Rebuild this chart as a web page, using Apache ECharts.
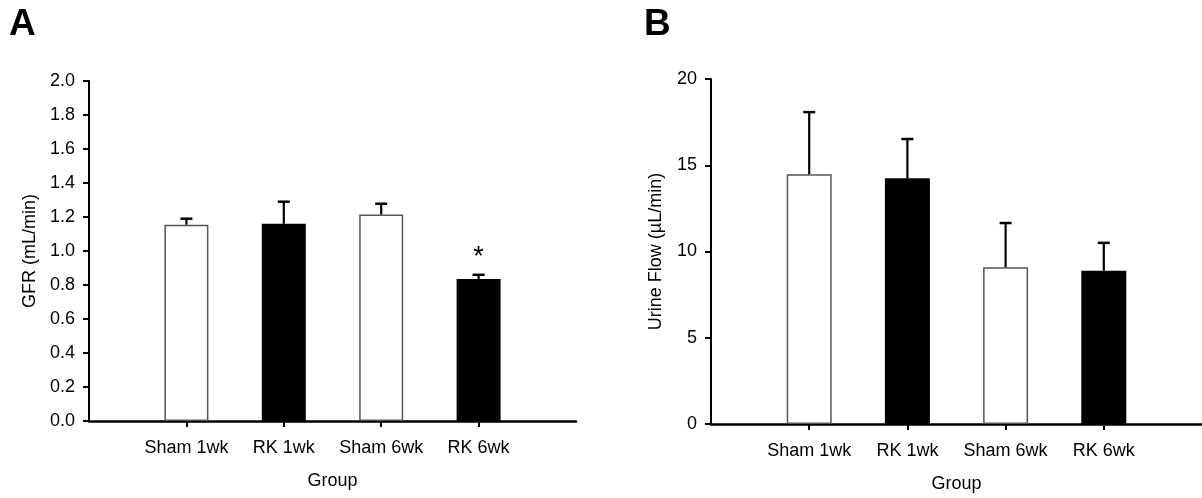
<!DOCTYPE html>
<html>
<head>
<meta charset="utf-8">
<script src="https://cdn.jsdelivr.net/npm/echarts@6/dist/echarts.min.js"></script>
<style>
html,body{margin:0;padding:0;background:#fff;}
#chart{width:1202px;height:498px;}
</style>
</head>
<body>
<div id="chart"></div>
<script>
// ---- data ----
const categories = ['Sham 1wk', 'RK 1wk', 'Sham 6wk', 'RK 6wk'];
const gfrMean = [1.155, 1.16, 1.215, 0.835];
const gfrErr = [0.035, 0.13, 0.063, 0.025];
const gfrMarks = ['', '', '', '*'];
const urineMean = [14.48, 14.25, 9.08, 8.88];
const urineErr = [3.6, 2.27, 2.57, 1.62];
const urineMarks = ['', '', '', ''];
const gfrTicks = [0, 0.2, 0.4, 0.6, 0.8, 1.0, 1.2, 1.4, 1.6, 1.8, 2.0];
const urineTicks = [0, 5, 10, 15, 20];
const panelLabels = ['A', 'B'];
const xAxisTitle = 'Group';
const gfrTitle = 'GFR (mL/min)';
const urineTitle = 'Urine Flow (\u00b5L/min)';

const FONT = '"Liberation Sans", Arial, sans-serif';
const positions = categories.map((c, i) => i + 1);

function barData(means) {
  return means.map((v, i) => ({
    value: [positions[i], v],
    itemStyle: i % 2 === 0
      ? { color: '#ffffff', borderColor: '#555555', borderWidth: 1.5 }
      : { color: '#000000', borderColor: '#000000', borderWidth: 0 }
  }));
}

function errData(means, errs, marks) {
  return means.map((v, i) => [positions[i], v, v + errs[i], marks[i]]);
}

function renderErr(params, api) {
  const x = api.value(0);
  const p0 = api.coord([x, api.value(1)]);
  const p1 = api.coord([x, api.value(2)]);
  const capHalf = 6;
  const children = [
    { type: 'line', shape: { x1: p0[0], y1: p0[1], x2: p1[0], y2: p1[1] },
      style: { stroke: '#000', lineWidth: 2.2 } },
    { type: 'line', shape: { x1: p1[0] - capHalf, y1: p1[1], x2: p1[0] + capHalf, y2: p1[1] },
      style: { stroke: '#000', lineWidth: 2.5 } }
  ];
  const mark = api.value(3);
  if (mark) {
    children.push({ type: 'text', x: p1[0], y: p1[1] - 17,
      style: { text: mark, fontSize: 27, fontFamily: FONT, fill: '#000',
               align: 'center', verticalAlign: 'middle' } });
  }
  return { type: 'group', children };
}

function xAxis(gridIndex) {
  return {
    type: 'value', gridIndex, min: 0, max: 5,
    axisLine: { show: true, onZero: false, lineStyle: { color: '#000', width: 2.5 } },
    axisTick: { show: true, customValues: positions, length: 6, lineStyle: { color: '#000', width: 2 } },
    axisLabel: { customValues: positions, margin: 18, fontSize: 18, fontFamily: FONT, color: '#000',
                 formatter: v => categories[Math.round(v) - 1] || '' },
    splitLine: { show: false },
    name: xAxisTitle, nameLocation: 'middle', nameGap: 51,
    nameTextStyle: { fontSize: 18, fontFamily: FONT, color: '#000' }
  };
}

function yAxis(gridIndex, ticks, decimals, title, gap) {
  return {
    type: 'value', gridIndex, min: ticks[0], max: ticks[ticks.length - 1],
    interval: ticks[1] - ticks[0],
    axisLine: { show: true, lineStyle: { color: '#000', width: 2 } },
    axisTick: { show: true, length: 6, lineStyle: { color: '#000', width: 2 } },
    axisLabel: { margin: 14, fontSize: 18, fontFamily: FONT, color: '#000',
                 formatter: v => v.toFixed(decimals) },
    splitLine: { show: false },
    name: title, nameLocation: 'middle', nameGap: gap, nameRotate: 90,
    nameTextStyle: { fontSize: 18, fontFamily: FONT, color: '#000' }
  };
}

const chart = echarts.init(document.getElementById('chart'), null, { renderer: 'canvas' });
chart.setOption({
  animation: false,
  backgroundColor: '#fff',
  grid: [
    { left: 89, top: 81, width: 487, height: 340 },
    { left: 711, top: 79, width: 497, height: 346 }
  ],
  xAxis: [xAxis(0), xAxis(1)],
  yAxis: [yAxis(0, gfrTicks, 1, gfrTitle, 50), yAxis(1, urineTicks, 0, urineTitle, 46)],
  graphic: [
    { type: 'text', left: 9, top: 6, style: { text: panelLabels[0], fontSize: 37, fontWeight: 'bold', fontFamily: FONT, fill: '#000' } },
    { type: 'text', left: 644, top: 6, style: { text: panelLabels[1], fontSize: 37, fontWeight: 'bold', fontFamily: FONT, fill: '#000' } }
  ],
  series: [
    { type: 'bar', xAxisIndex: 0, yAxisIndex: 0, barWidth: 44, data: barData(gfrMean), z: 2 },
    { type: 'custom', xAxisIndex: 0, yAxisIndex: 0, renderItem: renderErr, data: errData(gfrMean, gfrErr, gfrMarks), z: 3 },
    { type: 'bar', xAxisIndex: 1, yAxisIndex: 1, barWidth: 45, data: barData(urineMean), z: 2 },
    { type: 'custom', xAxisIndex: 1, yAxisIndex: 1, renderItem: renderErr, data: errData(urineMean, urineErr, urineMarks), z: 3 }
  ]
});
</script>
</body>
</html>
